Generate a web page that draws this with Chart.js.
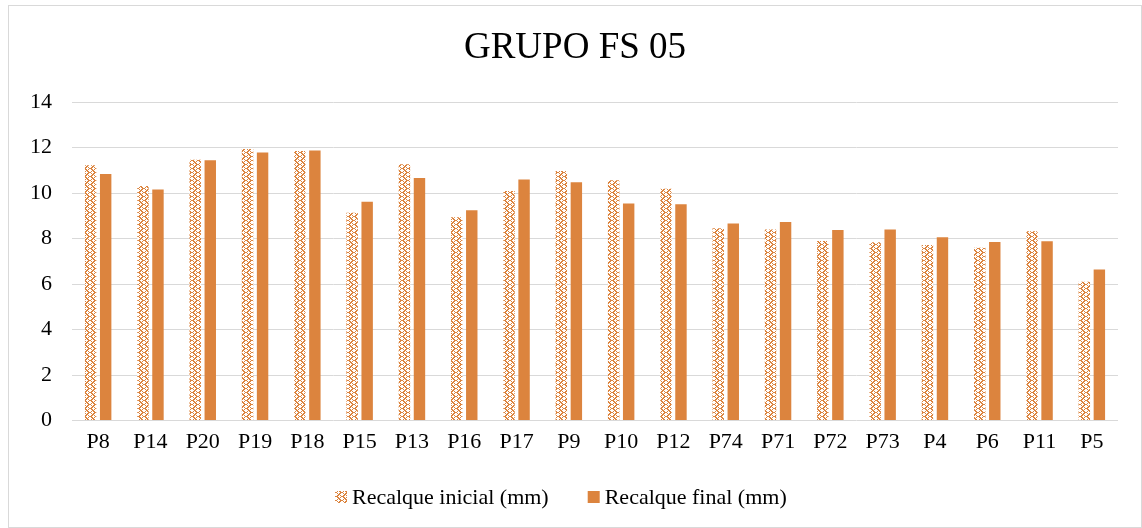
<!DOCTYPE html>
<html>
<head>
<meta charset="utf-8">
<script src="https://cdn.jsdelivr.net/npm/chart.js@4/dist/chart.umd.min.js"></script>
<style>
    html, body { margin: 0; padding: 0; background: #fff; }
    .chart_box { width: 1142px; height: 528px; position: relative; }
</style>
</head>
<body>
<div class="chart_box"><canvas class="bar_chart"></canvas></div>
<script>
const categories = ['P8', 'P14', 'P20', 'P19', 'P18', 'P15', 'P13', 'P16', 'P17', 'P9',
    'P10', 'P12', 'P74', 'P71', 'P72', 'P73', 'P4', 'P6', 'P11', 'P5'];
const recalque_inicial = [11.22, 10.31, 11.46, 11.93, 11.85, 9.13, 11.27, 8.94, 10.09, 10.97,
    10.56, 10.19, 8.45, 8.40, 7.89, 7.84, 7.72, 7.60, 8.32, 6.10];
const recalque_final = [10.84, 10.16, 11.44, 11.78, 11.87, 9.62, 10.66, 9.24, 10.59, 10.47,
    9.54, 9.51, 8.66, 8.73, 8.37, 8.40, 8.06, 7.85, 7.88, 6.64];
const y_ticks = [0, 2, 4, 6, 8, 10, 12, 14];

const chart_title = 'GRUPO FS 05';
const orange = '#DC843E';
const serif = '"Liberation Serif", "Times New Roman", serif';

// braid-like pattern for the first series
function makePattern() {
    const rows = [
        'XX...X',
        '.XX.X.',
        '..XX..',
        '.X.XX.',
        'X...XX',
        '.X.XX.',
        '..XX..',
        '.XX.X.',
    ];
    const c = document.createElement('canvas');
    c.width = 6;
    c.height = 8;
    const pctx = c.getContext('2d');
    pctx.fillStyle = '#fff';
    pctx.fillRect(0, 0, 6, 8);
    pctx.fillStyle = orange;
    rows.forEach((r, y) => {
        for (let x = 0; x < r.length; x++) {
            if (r[x] === 'X') pctx.fillRect(x, y, 1, 1);
        }
    });
    return pctx.createPattern(c, 'repeat');
}

const ctx = document.querySelector('.bar_chart').getContext('2d');

// frame + title centred on the whole canvas (like the Excel chart)
const frame_and_title = {
    id: 'frame_and_title',
    afterDraw(chart) {
        const { ctx } = chart;
        ctx.save();
        ctx.strokeStyle = '#d9d9d9';
        ctx.lineWidth = 1;
        ctx.strokeRect(8.5, 5.5, 1133, 522);
        ctx.font = '37px ' + serif;
        ctx.fillStyle = '#000';
        ctx.textAlign = 'center';
        ctx.textBaseline = 'middle';
        ctx.fillText(chart_title, 575, 48);
        ctx.restore();
    },
};

// legend drawn by hand so the box/text spacing matches
const bottom_legend = {
    id: 'bottom_legend',
    afterDraw(chart) {
        const { ctx } = chart;
        const y = 497;
        let x = 335;
        ctx.save();
        ctx.font = '22px ' + serif;
        ctx.textBaseline = 'middle';
        ctx.textAlign = 'left';
        chart.data.datasets.forEach(ds => {
            ctx.fillStyle = ds.backgroundColor;
            ctx.fillRect(x, y - 6, 12, 12);
            ctx.fillStyle = '#000';
            ctx.fillText(ds.label, x + 17, y + 1);
            x += 17 + ctx.measureText(ds.label).width + 39;
        });
        ctx.restore();
    },
};

const bar_chart = new Chart(ctx, {
    type: 'bar',
    data: {
        labels: categories,
        datasets: [{
            label: 'Recalque inicial (mm)',
            data: recalque_inicial,
            backgroundColor: makePattern(),
            borderWidth: 0,
        }, {
            label: 'Recalque final (mm)',
            data: recalque_final,
            backgroundColor: orange,
            borderWidth: 0,
        }],
    },
    options: {
        responsive: true,
        maintainAspectRatio: false,
        animation: false,
        devicePixelRatio: 1,
        layout: {
            padding: { top: 102, left: 10, right: 24, bottom: 65 },
        },
        datasets: {
            bar: { categoryPercentage: 0.575, barPercentage: 0.76 },
        },
        scales: {
            x: {
                grid: { display: false, drawTicks: false },
                border: { display: false },
                ticks: {
                    color: '#000',
                    padding: 8,
                    font: { family: serif, size: 22 },
                    maxRotation: 0,
                    autoSkip: false,
                },
            },
            y: {
                min: 0,
                max: 14,
                afterBuildTicks(axis) {
                    axis.ticks = y_ticks.map(v => ({ value: v }));
                },
                grid: { color: '#d9d9d9', lineWidth: 1, drawTicks: false },
                border: { display: false },
                ticks: {
                    color: '#000',
                    padding: 20,
                    font: { family: serif, size: 22 },
                },
            },
        },
        plugins: {
            title: { display: false },
            legend: { display: false },
            tooltip: { enabled: false },
        },
    },
    plugins: [frame_and_title, bottom_legend],
});
</script>
</body>
</html>
